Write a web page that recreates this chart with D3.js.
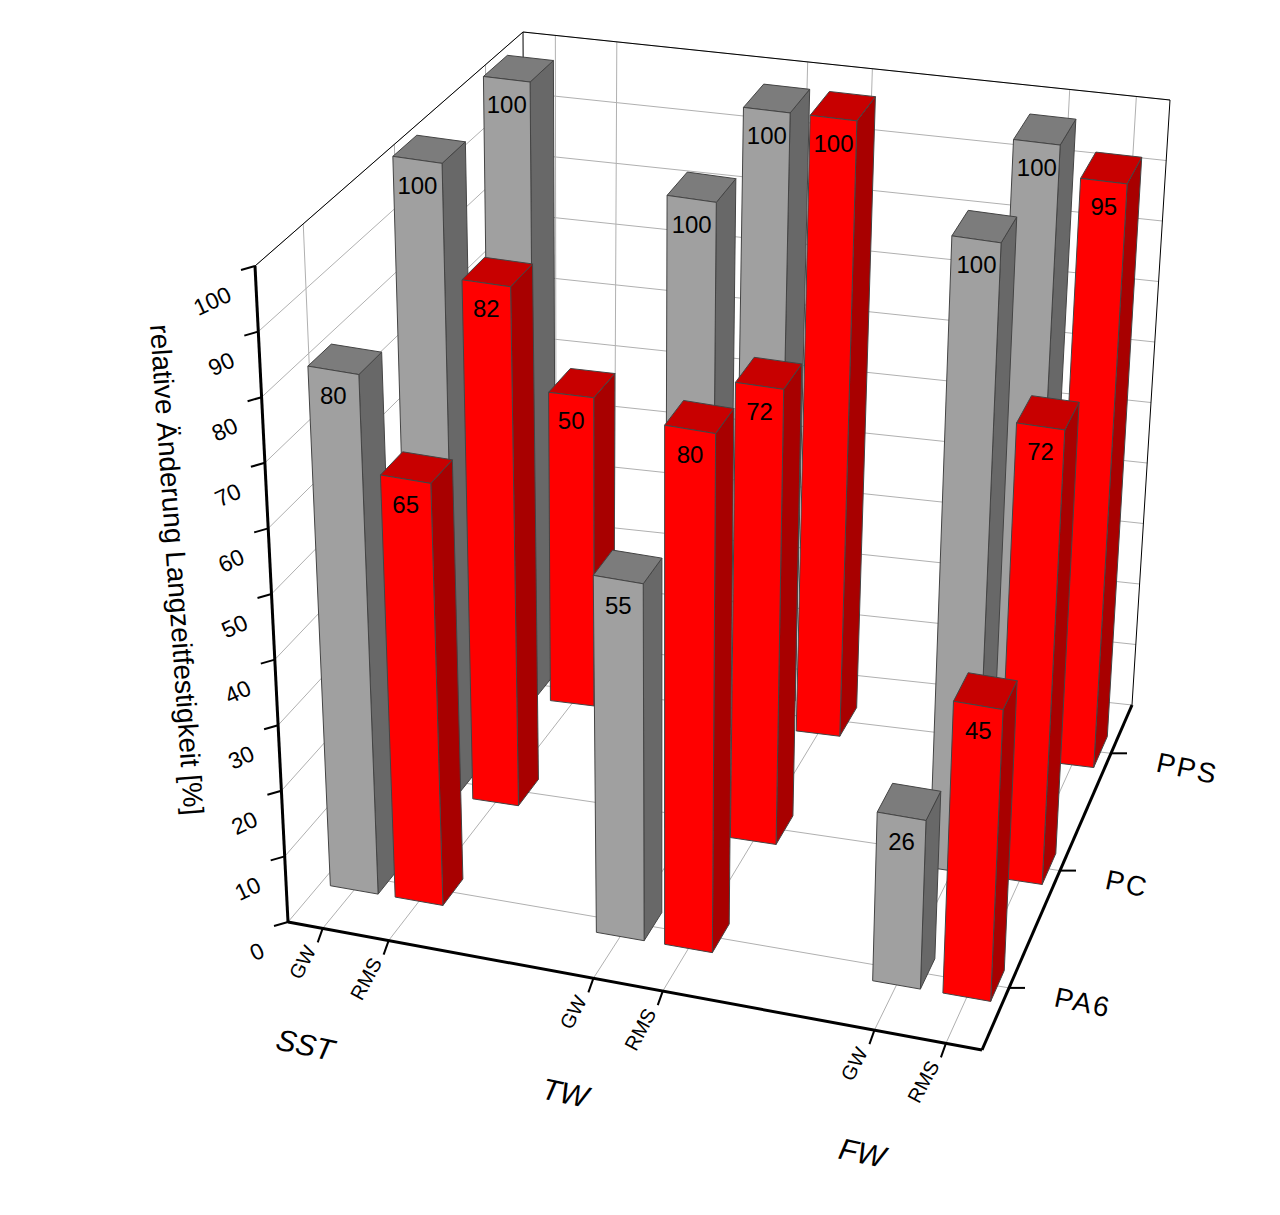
<!DOCTYPE html>
<html>
<head>
<meta charset="utf-8">
<script src="https://cdn.jsdelivr.net/npm/d3@7"></script>
<style>
  body { margin: 0; background: #fff; }
  text { font-family: "Liberation Sans", Arial, sans-serif; }
</style>
</head>
<body>
<div id="chart"></div>
<script>
const groups = ['SST', 'TW', 'FW'];
const methods = ['GW', 'RMS', 'GW', 'RMS', 'GW', 'RMS'];
const materials = ['PA6', 'PC', 'PPS'];
const yTicks = [0, 10, 20, 30, 40, 50, 60, 70, 80, 90, 100];

// values per material row, in category order SST GW, SST RMS, TW GW, TW RMS, FW GW, FW RMS
const pa6 = [80, 65, 55, 80, 26, 45];
const pc = [100, 82, 100, 72, 100, 72];
const pps = [100, 50, 100, 100, 100, 95];
const rows = [pa6, pc, pps];

const W = 1280, H = 1215;
const svg = d3.select('#chart').append('svg').attr('width', W).attr('height', H);

// scales into unit cube
const xScale = d3.scalePoint().domain(d3.range(6)).range([0, 1]);
const xPos = [0.05, 0.145, 0.44, 0.54, 0.845, 0.948];
const xS = i => xPos[i];
const zScale = d3.scalePoint().domain(materials).range([0.18, 0.86]);
const yScale = d3.scaleLinear().domain([0, 100]).range([0, 1]);

// screen corners of the box (x, y, z) -> trilinear mapping
const C = {
  '000': [288, 922], '100': [982, 1050], '001': [526, 640], '101': [1132, 705],
  '010': [255, 266], '110': [1009, 395], '011': [523, 32], '111': [1170, 100]
};
function P(x, y, z) {
  const out = [0, 0];
  for (let k = 0; k < 2; k++) {
    const v = (a, b, c) => C['' + a + b + c][k];
    out[k] =
      v(0,0,0)*(1-x)*(1-y)*(1-z) + v(1,0,0)*x*(1-y)*(1-z) +
      v(0,0,1)*(1-x)*(1-y)*z + v(1,0,1)*x*(1-y)*z +
      v(0,1,0)*(1-x)*y*(1-z) + v(1,1,0)*x*y*(1-z) +
      v(0,1,1)*(1-x)*y*z + v(1,1,1)*x*y*z;
  }
  return out;
}
const line = d3.line();
const grid = svg.append('g').attr('stroke', '#b0b0b0').attr('stroke-width', 1).attr('fill', 'none');
function seg(g, a, b, attrs) {
  const p = g.append('path').attr('d', line([a, b]));
  if (attrs) Object.entries(attrs).forEach(([k, v]) => p.attr(k, v));
  return p;
}

// back wall z=1, left wall x=0, floor y=0
yTicks.forEach(t => {
  const y = yScale(t);
  seg(grid, P(0, y, 1), P(1, y, 1));
  seg(grid, P(0, y, 0), P(0, y, 1));
});
xPos.forEach(x => {
  seg(grid, P(x, 0, 1), P(x, 1, 1));
  seg(grid, P(x, 0, 0), P(x, 0, 1));
});
materials.forEach(m => {
  const z = zScale(m);
  seg(grid, P(0, 0, z), P(1, 0, z));
  seg(grid, P(0, 0, z), P(0, 1, z));
});

// thin box edges
const edges = svg.append('g').attr('stroke', '#000').attr('stroke-width', 1).attr('fill', 'none');
seg(edges, P(0, 1, 0), P(0, 1, 1));
seg(edges, P(0, 1, 1), P(1, 1, 1));
seg(edges, P(1, 0, 1), P(1, 1, 1));
seg(edges, P(0, 0, 1), P(0, 1, 1));

// bars
const bw = 0.07, bd = 0.09;
const colors = {
  GW: { front: '#a0a0a0', side: '#686868', top: '#7c7c7c' },
  RMS: { front: '#ff0000', side: '#a80000', top: '#c80000' }
};
const bars = [];
rows.forEach((vals, r) => vals.forEach((v, i) => bars.push({ r, i, v, m: methods[i] })));
bars.sort((a, b) => (b.r - a.r) || (a.i - b.i));
const barG = svg.append('g').attr('stroke', '#444').attr('stroke-width', 1).attr('stroke-linejoin', 'round');
bars.forEach(b => {
  const x0 = xS(b.i) - bw / 2, x1 = xS(b.i) + bw / 2;
  const z0 = zScale(materials[b.r]) - bd / 2, z1 = z0 + bd;
  const y1 = yScale(b.v);
  const c = colors[b.m];
  const poly = pts => barG.append('path').attr('d', line(pts) + 'Z');
  poly([P(x1, 0, z0), P(x1, 0, z1), P(x1, y1, z1), P(x1, y1, z0)]).attr('fill', c.side);
  poly([P(x0, y1, z0), P(x1, y1, z0), P(x1, y1, z1), P(x0, y1, z1)]).attr('fill', c.top);
  poly([P(x0, 0, z0), P(x1, 0, z0), P(x1, y1, z0), P(x0, y1, z0)]).attr('fill', c.front);
  const lp = P(xS(b.i), y1, z0);
  svg.append('text').attr('x', lp[0]).attr('y', lp[1] + 34)
    .attr('text-anchor', 'middle').attr('font-size', 24).attr('fill', '#000').text(b.v);
});

// axes
const ax = svg.append('g').attr('stroke', '#000').attr('stroke-width', 3).attr('fill', 'none');
seg(ax, P(0, 0, 0), P(0, 1, 0));
seg(ax, P(0, 0, 0), P(1, 0, 0));
seg(ax, P(1, 0, 0), P(1, 0, 1));
yTicks.forEach(t => {
  const p = P(0, yScale(t), 0);
  seg(ax, p, [p[0] - 14, p[1] + 4], { 'stroke-width': 2 });
  svg.append('text').attr('transform', `translate(${p[0] - 22},${p[1] + 34}) rotate(-25)`)
    .attr('text-anchor', 'end').attr('font-size', 23).text(t);
});
xPos.forEach((x, i) => {
  const p = P(x, 0, 0);
  seg(ax, p, [p[0] - 5, p[1] + 14], { 'stroke-width': 2 });
  svg.append('text').attr('transform', `translate(${p[0] - 6},${p[1] + 22}) rotate(-62)`)
    .attr('text-anchor', 'end').attr('font-size', 20).text(methods[i]);
});
const gPos = [[303, 1055], [563, 1103], [860, 1163]];
groups.forEach((g, i) => {
  svg.append('text').attr('transform', `translate(${gPos[i][0]},${gPos[i][1]}) rotate(12)`)
    .attr('text-anchor', 'middle').attr('font-size', 30).attr('font-style', 'italic').text(g);
});
materials.forEach(m => {
  const p = P(1, 0, zScale(m));
  seg(ax, p, [p[0] + 16, p[1]], { 'stroke-width': 2 });
  svg.append('text').attr('transform', `translate(${p[0] + 44},${p[1] + 18}) rotate(12)`)
    .attr('font-size', 28).attr('letter-spacing', 2).text(m);
});

svg.append('text').attr('transform', 'translate(150,325) rotate(86)')
  .attr('font-size', 28).text('relative Änderung Langzeitfestigkeit [%]');
</script>
</body>
</html>
